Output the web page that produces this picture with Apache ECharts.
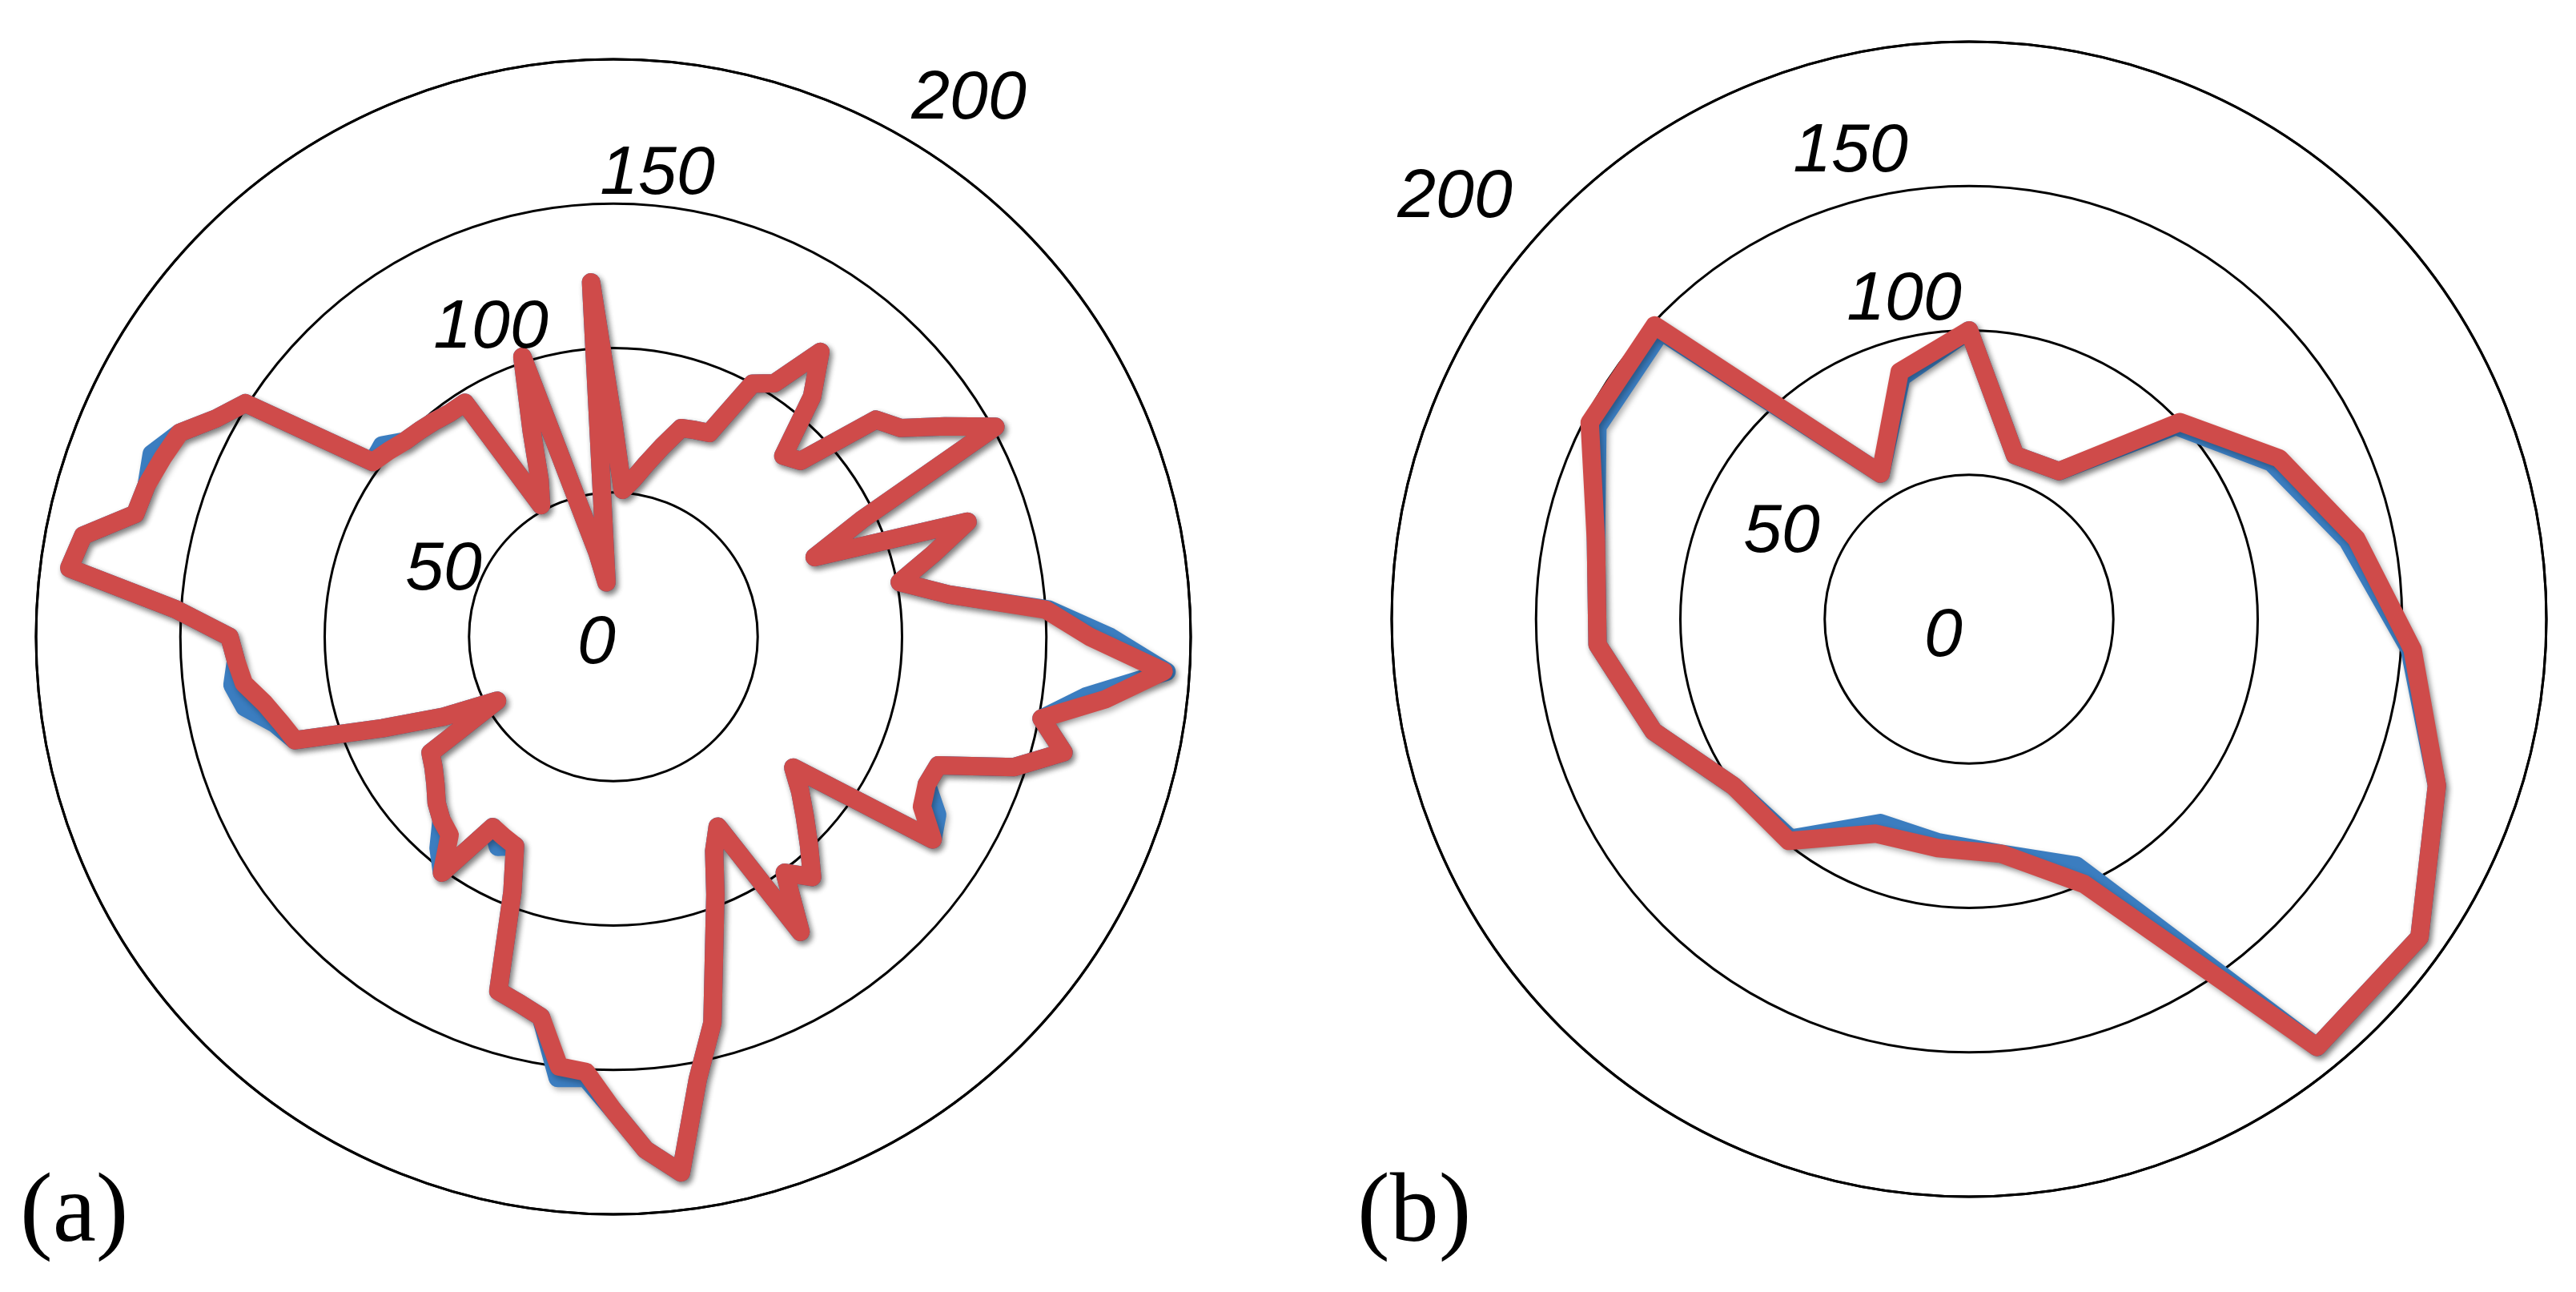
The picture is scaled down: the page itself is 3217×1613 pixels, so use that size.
<!DOCTYPE html>
<html>
<head>
<meta charset="utf-8">
<script src="https://cdn.jsdelivr.net/npm/echarts@6/dist/echarts.min.js"></script>
<style>
  html, body { margin: 0; padding: 0; background: #fff; }
  #main { width: 3217px; height: 1613px; }
</style>
</head>
<body>
<div id="main"></div>
<script>
// ring values (radius axis) and their labels
var ringTicks = ['0', '50', '100', '150', '200'];

// (a) 100 directions, read clockwise from the top
var leftRed = [
  74, 51, 55, 61, 68, 76, 77, 78, 100, 104,
  122, 108, 86, 89, 118, 123, 136, 151, 95, 75,
  129, 114, 101, 117, 150, 165, 191, 172, 151, 161,
  146, 121, 120, 122, 131, 77, 84, 91, 99, 108,
  101, 121, 75, 82, 96, 113, 138, 156, 187, 178,
  164, 151, 150, 134, 131, 129, 95, 80, 79, 78,
  101, 89, 87, 84, 80, 77, 75, 46, 65, 86,
  116, 119, 123, 129, 131, 133, 152, 190, 187, 171,
  170, 168, 166, 157, 151, 103, 101, 99, 98, 97,
  96, 96, 52, 60, 77, 102, 46, 30, 19, 123
];
var leftBlue = [
  74, 51, 55, 61, 68, 76, 77, 78, 100, 104,
  122, 108, 86, 89, 118, 123, 136, 151, 95, 75,
  129, 114, 101, 117, 151, 172, 192, 165, 151, 161,
  146, 121, 120, 128, 131, 77, 84, 91, 99, 108,
  101, 121, 75, 82, 96, 113, 138, 156, 187, 178,
  164, 153, 154, 134, 131, 129, 95, 80, 83, 78,
  101, 95, 87, 84, 80, 77, 75, 46, 65, 86,
  116, 121, 130, 133, 131, 133, 152, 190, 187, 171,
  170, 172, 166, 157, 151, 103, 104, 99, 98, 97,
  96, 96, 52, 60, 77, 102, 46, 30, 19, 123
];

// (b) 23 directions, read clockwise from the top
var rightRed  = [100, 59, 60, 100, 121, 137, 154, 172, 191, 191, 100, 82, 80, 81, 99, 100, 116, 129, 132, 148, 149, 59, 89];
var rightBlue = [100, 59, 60, 98, 118, 134, 153, 172, 191, 191, 93, 82, 78, 77, 98, 100, 116, 129, 132, 145, 146, 59, 87];

var panelNames = ['(a)', '(b)'];

var centers = [[766, 795], [2459, 773]];
var R = 721;
// where the ring labels sit (px)
var labelPos = [
  [[745, 804], [554, 712], [613, 410], [821, 218], [1210, 124]],
  [[2427, 795], [2225, 665], [2378, 375], [2311, 190], [1817, 247]]
];
var panelPos = [[25, 1517], [1695, 1517]];

function closed(vals) {
  var pts = vals.map(function (v, i) { return [v, i]; });
  pts.push([vals[0], vals.length]);
  return pts;
}

var RED = '#cf4b4a';
var BLUE = '#3b7dc0';

function polarAxes(i, n) {
  return {
    polar: { center: centers[i], radius: R },
    angle: {
      polarIndex: i, type: 'value', min: 0, max: n, startAngle: 90, clockwise: true,
      axisLine: { show: true, lineStyle: { color: '#000', width: 3 } },
      axisTick: { show: false }, axisLabel: { show: false }, splitLine: { show: false }
    },
    radius: {
      polarIndex: i, type: 'value', min: 0, max: 200, interval: 50,
      axisLine: { show: false }, axisTick: { show: false }, axisLabel: { show: false },
      splitLine: { show: true, lineStyle: { color: '#000', width: 3 } }
    }
  };
}

function lineSeries(i, vals, color, z) {
  return {
    type: 'line', coordinateSystem: 'polar', polarIndex: i,
    data: closed(vals), symbol: 'none', smooth: false, z: z, silent: true,
    lineStyle: {
      color: color, width: 23, join: 'round', cap: 'round',
      shadowColor: 'rgba(0,0,0,0.3)', shadowBlur: 7, shadowOffsetX: 3, shadowOffsetY: 4
    }
  };
}

var a = polarAxes(0, leftRed.length);
var b = polarAxes(1, rightRed.length);

var texts = [];
labelPos.forEach(function (list) {
  list.forEach(function (p, k) {
    texts.push({
      type: 'text', x: p[0], y: p[1], z: 10,
      style: {
        text: ringTicks[k], fill: '#000', align: 'center', verticalAlign: 'middle',
        font: 'italic 86px "Liberation Sans", Arial, sans-serif'
      }
    });
  });
});
panelNames.forEach(function (t, i) {
  texts.push({
    type: 'text', x: panelPos[i][0], y: panelPos[i][1], z: 10,
    style: {
      text: t, fill: '#000', align: 'left', verticalAlign: 'middle',
      font: '122px "Liberation Serif", "Times New Roman", serif'
    }
  });
});

var chart = echarts.init(document.getElementById('main'), null, { renderer: 'canvas' });
chart.setOption({
  backgroundColor: '#fff',
  animation: false,
  polar: [a.polar, b.polar],
  angleAxis: [a.angle, b.angle],
  radiusAxis: [a.radius, b.radius],
  series: [
    lineSeries(0, leftBlue, BLUE, 2),
    lineSeries(0, leftRed, RED, 3),
    lineSeries(1, rightBlue, BLUE, 2),
    lineSeries(1, rightRed, RED, 3)
  ],
  graphic: texts
});
</script>
</body>
</html>
